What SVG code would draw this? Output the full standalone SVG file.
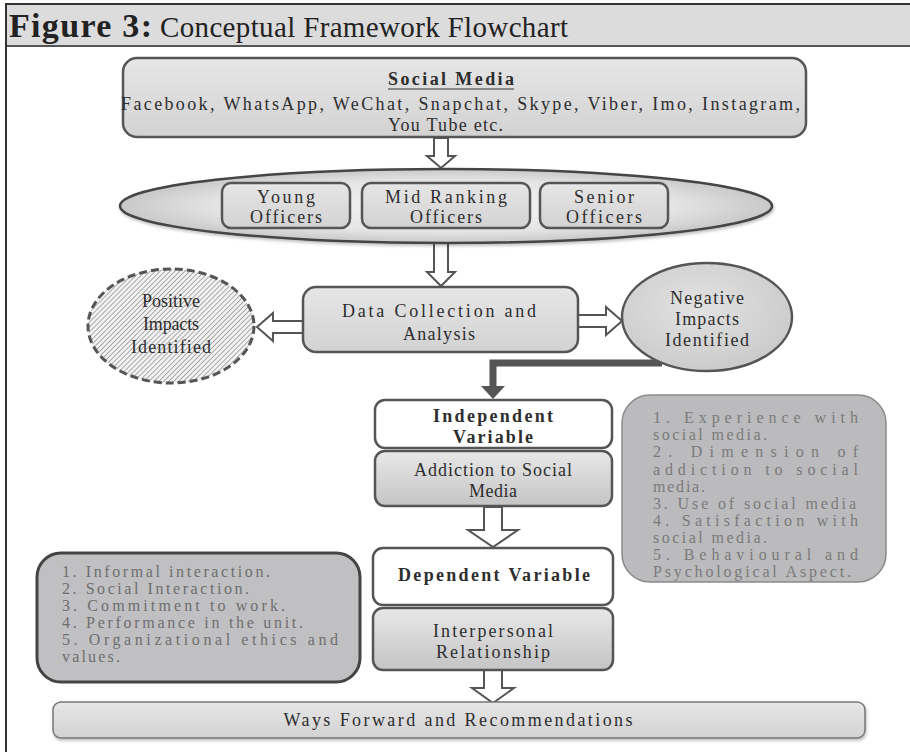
<svg xmlns="http://www.w3.org/2000/svg" width="910" height="752" viewBox="0 0 910 752">
  <defs>
    <style>
      .t { font-family: "Liberation Serif", "Times New Roman", serif; font-size: 18px; fill: #2e2e2e; }
      .b { font-weight: bold; }
      .mid { text-anchor: middle; }
      .g1 { font-family: "Liberation Serif", "Times New Roman", serif; font-size: 16px; fill: #7a7a7a; }
      .g2 { font-family: "Liberation Serif", "Times New Roman", serif; font-size: 16px; fill: #6e6e6e; }
      .box { stroke: #555; stroke-width: 2.5; }
      .hollow { fill: #fff; stroke: #555; stroke-width: 2; stroke-linejoin: miter; }
    </style>
    <linearGradient id="gBox" x1="0" y1="0" x2="0" y2="1">
      <stop offset="0" stop-color="#e6e6e7"/>
      <stop offset="1" stop-color="#d2d2d3"/>
    </linearGradient>
    <linearGradient id="gBoxDark" x1="0" y1="0" x2="0" y2="1">
      <stop offset="0" stop-color="#e8e8e9"/>
      <stop offset="1" stop-color="#c4c4c5"/>
    </linearGradient>
    <radialGradient id="gEll" cx="0.5" cy="0.5" r="0.5">
      <stop offset="0" stop-color="#f4f4f4"/>
      <stop offset="0.7" stop-color="#e4e4e4"/>
      <stop offset="1" stop-color="#c8c8c8"/>
    </radialGradient>
    <radialGradient id="gNeg" cx="0.45" cy="0.4" r="0.6">
      <stop offset="0" stop-color="#e2e2e2"/>
      <stop offset="1" stop-color="#cbcbcb"/>
    </radialGradient>
    <pattern id="hatch" width="3.5" height="3.5" patternUnits="userSpaceOnUse" patternTransform="rotate(45)">
      <rect width="3.5" height="3.5" fill="#f2f2f2"/>
      <line x1="0" y1="0" x2="0" y2="3.5" stroke="#7a7a7a" stroke-width="1.2"/>
    </pattern>
    <filter id="sh" x="-5%" y="-10%" width="110%" height="130%">
      <feDropShadow dx="1" dy="2" stdDeviation="1.5" flood-color="#000" flood-opacity="0.25"/>
    </filter>
  </defs>

  <!-- frame and header band -->
  <g id="frame">
    <rect x="6" y="4" width="904" height="42" fill="#dcdcdd"/>
    <line x1="5" y1="4" x2="910" y2="4" stroke="#333" stroke-width="2"/>
    <line x1="6" y1="46" x2="910" y2="46" stroke="#555" stroke-width="2"/>
    <line x1="6" y1="3" x2="6" y2="752" stroke="#333" stroke-width="2"/>
    <text x="9" y="37" font-family="Liberation Serif, serif" font-size="34" font-weight="bold" fill="#222" textLength="143">Figure 3:</text>
    <text x="160" y="37" font-family="Liberation Serif, serif" font-size="29" fill="#222" textLength="408">Conceptual Framework Flowchart</text>
  </g>

  <!-- connectors -->
  <g id="connectors">
    <polygon class="hollow" points="434,138 448,138 448,156 455,156 441,168 427,156 434,156"/>
    <polygon class="hollow" points="434,243 448,243 448,272 455,272 441,286 427,272 434,272"/>
    <polygon class="hollow" points="303,321 273,321 273,313 257,327 273,341 273,333 303,333"/>
    <polygon class="hollow" points="578,315 606,315 606,307 622,321 606,335 606,327 578,327"/>
    <path d="M662,363 H493 V388" fill="none" stroke="#555" stroke-width="7"/>
    <polygon points="481,386 505,386 493,399" fill="#555"/>
    <polygon class="hollow" points="484,507 502,507 502,530 518,530 493,547 468,530 484,530"/>
    <polygon class="hollow" points="484,669 502,669 502,688 514,688 493,703 472,688 484,688"/>
  </g>

  <!-- social media -->
  <g id="social-media">
    <rect class="box" x="123" y="58" width="683" height="79" rx="14" fill="url(#gBox)"/>
    <text class="t b mid" x="451" y="85" textLength="126">Social Media</text>
    <line x1="388" y1="89" x2="514" y2="89" stroke="#333" stroke-width="1"/>
    <text class="t" x="121" y="110" textLength="679">Facebook, WhatsApp, WeChat, Snapchat, Skype, Viber, Imo, Instagram,</text>
    <text class="t" x="388" y="131" textLength="115">You Tube etc.</text>
  </g>

  <!-- officer groups -->
  <g id="officers">
    <ellipse cx="446" cy="206" rx="326" ry="37" fill="url(#gEll)" stroke="#444" stroke-width="2.5" filter="url(#sh)"/>
    <g id="young-officers">
      <rect class="box" x="222" y="183" width="128" height="45" rx="9" fill="url(#gBox)" stroke-width="2"/>
      <text class="t mid" x="286" y="203" textLength="58">Young</text>
      <text class="t mid" x="286" y="223" textLength="72">Officers</text>
    </g>
    <g id="mid-ranking-officers">
      <rect class="box" x="362" y="183" width="168" height="45" rx="9" fill="url(#gBox)" stroke-width="2"/>
      <text class="t mid" x="446" y="203" textLength="122">Mid Ranking</text>
      <text class="t mid" x="446" y="223" textLength="72">Officers</text>
    </g>
    <g id="senior-officers">
      <rect class="box" x="540" y="183" width="128" height="45" rx="9" fill="url(#gBox)" stroke-width="2"/>
      <text class="t mid" x="604" y="203" textLength="60">Senior</text>
      <text class="t mid" x="604" y="223" textLength="76">Officers</text>
    </g>
  </g>

  <!-- data collection -->
  <g id="data-collection">
    <rect class="box" x="303" y="287" width="275" height="65" rx="13" fill="url(#gBox)"/>
    <text class="t mid" x="439" y="317" textLength="194">Data Collection and</text>
    <text class="t mid" x="439" y="340" textLength="72">Analysis</text>
  </g>

  <!-- positive impacts -->
  <g id="positive-impacts">
    <ellipse cx="171" cy="326" rx="83" ry="57" fill="url(#hatch)" stroke="#555" stroke-width="3" stroke-dasharray="8 4"/>
    <text class="t mid" x="171" y="307" textLength="58">Positive</text>
    <text class="t mid" x="171" y="330" textLength="56">Impacts</text>
    <text class="t mid" x="171" y="353" textLength="80">Identified</text>
  </g>

  <!-- negative impacts -->
  <g id="negative-impacts">
    <ellipse cx="707" cy="317" rx="85" ry="54" fill="url(#gNeg)" stroke="#555" stroke-width="2.5"/>
    <text class="t mid" x="707" y="304" textLength="74">Negative</text>
    <text class="t mid" x="707" y="325" textLength="64">Impacts</text>
    <text class="t mid" x="707" y="346" textLength="84">Identified</text>
  </g>

  <!-- independent variable -->
  <g id="independent-variable">
    <rect class="box" x="375" y="400" width="237" height="48" rx="10" fill="#fff"/>
    <text class="t b mid" x="493" y="422" textLength="120">Independent</text>
    <text class="t b mid" x="493" y="443" textLength="80">Variable</text>
  </g>
  <g id="addiction">
    <rect class="box" x="375" y="451" width="237" height="55" rx="10" fill="url(#gBoxDark)"/>
    <text class="t mid" x="493" y="476" textLength="158">Addiction to Social</text>
    <text class="t mid" x="493" y="497" textLength="48">Media</text>
  </g>

  <!-- independent factors -->
  <g id="independent-factors">
    <rect x="622" y="395" width="264" height="187" rx="28" fill="#bbbbbd" stroke="#8a8a8a" stroke-width="1.5"/>
    <text class="g1" x="653" y="423" textLength="205">1.  Experience  with</text>
    <text class="g1" x="653" y="440" textLength="114">social media.</text>
    <text class="g1" x="653" y="457" textLength="205">2.  Dimension  of</text>
    <text class="g1" x="653" y="475" textLength="205">addiction  to  social</text>
    <text class="g1" x="653" y="492" textLength="52">media.</text>
    <text class="g1" x="653" y="509" textLength="203">3. Use of social media</text>
    <text class="g1" x="653" y="526" textLength="205">4.  Satisfaction  with</text>
    <text class="g1" x="653" y="543" textLength="114">social media.</text>
    <text class="g1" x="653" y="560" textLength="205">5.  Behavioural  and</text>
    <text class="g1" x="653" y="577" textLength="198">Psychological Aspect.</text>
  </g>

  <!-- dependent variable -->
  <g id="dependent-variable">
    <rect class="box" x="373" y="548" width="240" height="57" rx="10" fill="#fff"/>
    <text class="t b mid" x="494" y="581" textLength="192">Dependent Variable</text>
  </g>
  <g id="interpersonal">
    <rect class="box" x="373" y="608" width="240" height="62" rx="10" fill="url(#gBoxDark)"/>
    <text class="t mid" x="493" y="637" textLength="120">Interpersonal</text>
    <text class="t mid" x="493" y="658" textLength="114">Relationship</text>
  </g>

  <!-- dependent factors -->
  <g id="dependent-factors">
    <rect x="37" y="553" width="323" height="129" rx="24" fill="#c0c0c2" stroke="#444" stroke-width="3"/>
    <text class="g2" x="62" y="577" textLength="208">1. Informal interaction.</text>
    <text class="g2" x="62" y="594" textLength="187">2. Social Interaction.</text>
    <text class="g2" x="62" y="611" textLength="223">3. Commitment to work.</text>
    <text class="g2" x="62" y="628" textLength="241">4. Performance in the unit.</text>
    <text class="g2" x="62" y="645" textLength="276">5.  Organizational  ethics  and</text>
    <text class="g2" x="62" y="662" textLength="58">values.</text>
  </g>

  <!-- ways forward -->
  <g id="ways-forward">
    <rect x="53" y="702" width="812" height="36" rx="8" fill="url(#gBox)" stroke="#777" stroke-width="1.5" filter="url(#sh)"/>
    <text class="t mid" x="458" y="726" textLength="349">Ways Forward and Recommendations</text>
  </g>
</svg>
